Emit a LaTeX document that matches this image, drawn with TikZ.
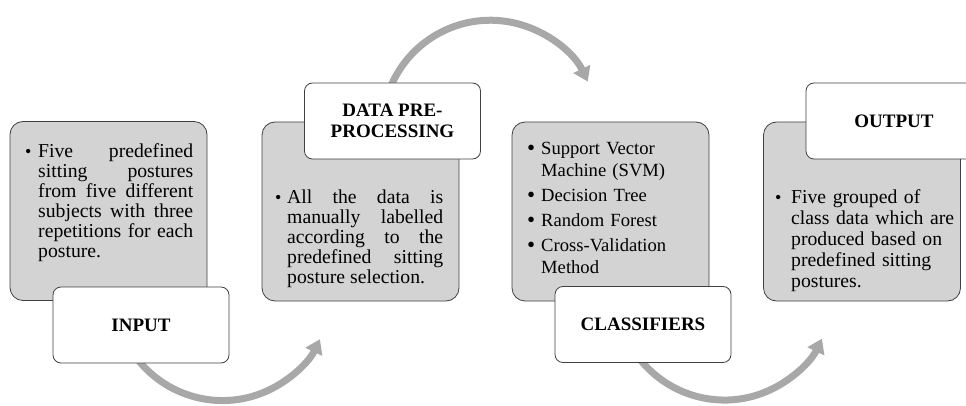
\documentclass[tikz,border=0pt]{standalone}
\usepackage{fontspec}
\setmainfont{Liberation Serif}
\usetikzlibrary{arrows.meta,calc,backgrounds}

\definecolor{panelfill}{RGB}{211,211,211}
\definecolor{edgegray}{RGB}{64,64,64}
\definecolor{flowgray}{RGB}{168,168,168}

% bullet with hanging indent: small bullet and large bullet variants
\newcommand{\bul}[1]{\hangindent=#1\relax\hangafter=0\relax\noindent\llap{\makebox[#1][l]{{\fontsize{18}{18}\selectfont •}}}}
\newcommand{\bigbul}[1]{\hangindent=#1\relax\hangafter=0\relax\noindent\llap{\makebox[#1][l]{{\fontsize{23}{23}\selectfont\raisebox{-1pt}{•}}}}}

\hbadness=10000

\begin{document}
\begin{tikzpicture}[x=1pt,y=1pt,
  panel/.style={draw=edgegray, line width=0.8pt, fill=panelfill, rounded corners=13pt,
    minimum width=197pt, minimum height=179pt, inner sep=0pt},
  tag/.style={draw=edgegray, line width=0.8pt, fill=white, rounded corners=8pt,
    minimum width=176pt, minimum height=76pt, inner sep=0pt,
    font=\fontsize{19}{21}\selectfont\bfseries, align=center},
  body/.style={anchor=north west, inner sep=0pt, text width=168pt,
    font=\fontsize{19.7}{20}\selectfont},
  flow/.style={draw=flowgray, line width=7pt, -{Triangle[width=18pt,length=14pt]}}
]
\useasboundingbox (0,0) rectangle (966,-406);

% grey content panels
\node[panel] (p1) at (108.5,-211) {};
\node[panel] (p2) at (360.5,-211.5) {};
\node[panel] (p3) at (610.5,-211.5) {};
\node[panel] (p4) at (862,-211.5) {};

% panel texts
\node[body, align=justify] (t1) at (25,-141)
  {\bul{13pt}\rule{0pt}{16pt}Five predefined\linebreak sitting postures\linebreak from five different\linebreak subjects with three\linebreak repetitions for each\linebreak posture.\par};
\node[body, align=justify] (t2) at (275,-187)
  {\bul{12pt}\rule{0pt}{16pt}All the data is\linebreak manually labelled\linebreak according to the\linebreak predefined sitting\linebreak posture selection.\par};
\node[body, align=left, text width=180pt, font=\fontsize{18.6}{22}\selectfont] (t3) at (527,-138)
  {\bigbul{14pt}\rule{0pt}{16pt}Support Vector\newline Machine (SVM)\par\vspace{3pt}%
   \bigbul{14pt}Decision Tree\par\vspace{3pt}%
   \bigbul{14pt}Random Forest\par\vspace{3pt}%
   \bigbul{14pt}Cross-Validation\newline Method\par};
\node[body, align=left, text width=180pt, font=\fontsize{19.7}{21}\selectfont] (t4) at (775,-187)
  {\bul{16pt}\rule{0pt}{16pt}Five grouped of\newline class data which are\newline produced based on\newline predefined sitting\newline postures.\par};

% white title tags
\node[tag] (input) at (141,-325) {INPUT};
\node[tag] (prep) at (392.5,-121) {DATA PRE-\\PROCESSING};
\node[tag] (classif) at (643,-324.5) {CLASSIFIERS};
\node[tag] (output) at (894,-121) {OUTPUT};

% curved flow arrows, behind the tags
\begin{scope}[on background layer]
  \coordinate (c1) at ($(input.south)+(41:108pt)$);
  \coordinate (c2) at ($(prep.north)+(-25:108pt)$);
  \coordinate (c3) at ($(classif.south)+(41:108pt)$);
  \draw[flow] ($(c1)+(205:108pt)$) arc[start angle=205, end angle=334.4, radius=108pt];
  \draw[flow] ($(c2)+(165:108pt)$) arc[start angle=165, end angle=25.6, radius=108pt];
  \draw[flow] ($(c3)+(205:108pt)$) arc[start angle=205, end angle=334.4, radius=108pt];
\end{scope}
\end{tikzpicture}
\end{document}
